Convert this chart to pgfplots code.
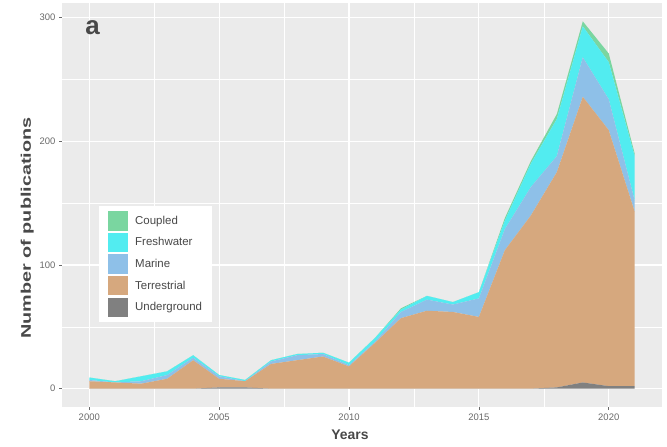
\documentclass[border=0pt]{standalone}
\usepackage{fontspec}
\setmainfont{Liberation Sans}
\usepackage{graphicx}
\usepackage{pgfplots}
\pgfplotsset{compat=1.18}
\usepackage{pgfplotstable}

\definecolor{cCoupled}{RGB}{122,214,160}
\definecolor{cFresh}{RGB}{82,236,240}
\definecolor{cMarine}{RGB}{142,192,232}
\definecolor{cTerr}{RGB}{214,168,126}
\definecolor{cUnder}{RGB}{128,128,128}
\definecolor{panelbg}{RGB}{235,235,235}
\definecolor{tickgray}{RGB}{105,105,105}
\definecolor{titlegray}{RGB}{72,72,72}

\pgfplotstableread{
year U T M F C
2000 0 6 1 2 0
2001 0 5 0 1 0
2002 0 4 2 4 0
2003 0 8 3 3 0
2004 0 23 2 2 0
2005 1 7 2 1 0
2006 1 5 0 1 0
2007 0 20 2 1 0
2008 0 23 4 1 0
2009 0 26 2 1 0
2010 0 18 1 2 0
2011 0 37 1 3 0
2012 0 57 5 2 1
2013 0 63 9 3 0
2014 0 62 6 2 0
2015 0 58 15 5 0
2016 0 112 17 7 2
2017 0 140 23 19 2
2018 1 174 13 30 4
2019 5 231 32 25 4
2020 2 207 25 30 7
2021 2 141 9 36 2
}\data

\begin{document}
\begin{tikzpicture}
\begin{axis}[
  name=ax,
  scale only axis, width=600bp, height=404bp,
  xmin=1998.95, xmax=2022.05, ymin=-14.85, ymax=311.85,
  stack plots=y,
  axis background/.style={fill=panelbg},
  axis line style={draw=none},
  grid=both,
  major grid style={white, line width=1.1bp},
  minor grid style={white, line width=0.55bp},
  minor tick num=1,
  xtick={2000,2005,2010,2015,2020},
  ytick={0,100,200,300},
  tick align=outside, tick pos=left,
  major tick length=3bp, minor tick length=0pt,
  tick style={color=tickgray, line width=0.6bp},
  ticklabel style={font=\fontsize{9.5}{10}\selectfont, text=tickgray},
  /pgf/number format/assume math mode=true,
  /pgf/number format/1000 sep={},
  xlabel={\fontsize{14}{16}\selectfont\bfseries Years},
  xlabel style={at={(axis description cs:0.48,-0.069)}, anchor=center, text=titlegray},
  ylabel={\scalebox{1.42}[1]{\fontsize{14}{16}\selectfont\bfseries Number of publications}},
  ylabel style={at={(axis description cs:-0.058,0.443)}, anchor=center, rotate=0, text=titlegray},
  legend image code/.code={\fill[#1] (0bp,-9.7bp) rectangle (19.5bp,9.7bp);},
  reverse legend,
  legend cell align=left,
  legend style={at={(axis description cs:0.0617,0.4975)}, anchor=north west,
    draw=none, fill=white, font=\fontsize{11.5}{13}\selectfont, text=titlegray,
    row sep=2.2bp, inner xsep=9bp, inner ysep=5bp,
    nodes={inner sep=0.5bp, anchor=west},
    /tikz/every odd column/.append style={column sep=7bp}},
]
\addplot[fill=cUnder, draw=none] table[x=year, y=U]{\data} \closedcycle;
\addlegendentry{Underground}
\addplot[fill=cTerr, draw=none] table[x=year, y=T]{\data} \closedcycle;
\addlegendentry{Terrestrial}
\addplot[fill=cMarine, draw=none] table[x=year, y=M]{\data} \closedcycle;
\addlegendentry{Marine}
\addplot[fill=cFresh, draw=none] table[x=year, y=F]{\data} \closedcycle;
\addlegendentry{Freshwater}
\addplot[fill=cCoupled, draw=none] table[x=year, y=C]{\data} \closedcycle;
\addlegendentry{Coupled}
\node[anchor=base west, text=titlegray, font=\fontsize{26}{28}\selectfont\bfseries] at (axis description cs:0.0333,0.923) {a};
\end{axis}
\pgfresetboundingbox
\path (ax.south west) ++(-62bp,-40bp) rectangle ++(667bp,447bp);
\end{tikzpicture}
\end{document}
